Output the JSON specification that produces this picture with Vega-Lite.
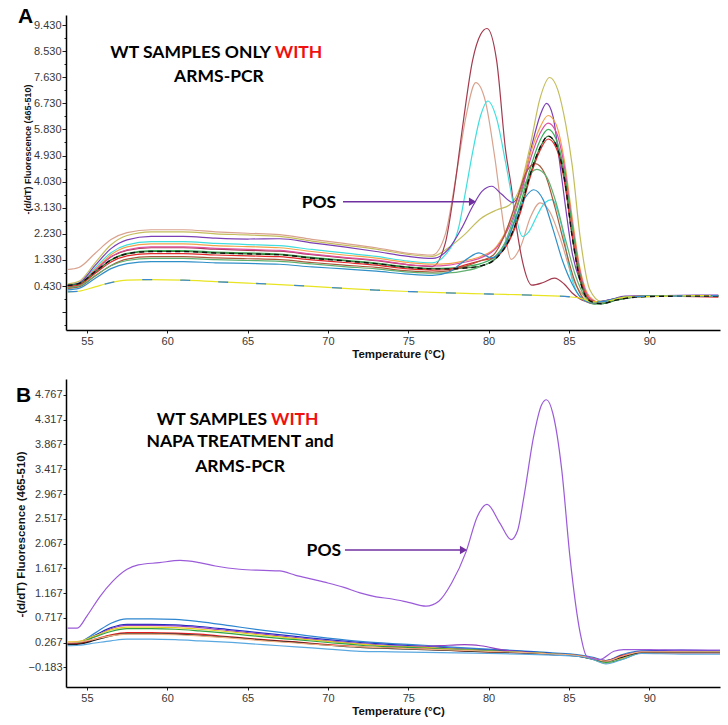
{
"$schema":"https://vega.github.io/schema/vega-lite/v6.json",
"background":"white",
"padding":{"left":15,"top":6,"right":8,"bottom":5},
"config":{"view":{"stroke":null},
 "axis":{"grid":false,"domainColor":"#000","domainWidth":1.5,"tickColor":"#222","tickSize":3,"labelFont":"Liberation Sans Narrow, Liberation Sans","labelFontSize":11,"labelColor":"#383838","titleFont":"Liberation Sans","titleFontWeight":"bold","titleColor":"#111"},
 "text":{"font":"Lato","fontWeight":"bold"}},
"resolve":{"scale":{"color":"independent"}},
"datasets":{
"A":[
{"s":"c01","x":53.8,"y":0.5},{"s":"c01","x":54.5,"y":0.59},{"s":"c01","x":55.5,"y":1.22},{"s":"c01","x":56.5,"y":1.85},{"s":"c01","x":57.5,"y":2.17},{"s":"c01","x":59,"y":2.3},{"s":"c01","x":61,"y":2.3},{"s":"c01","x":63,"y":2.23},{"s":"c01","x":65,"y":2.19},{"s":"c01","x":67,"y":2.14},{"s":"c01","x":69,"y":1.98},{"s":"c01","x":71,"y":1.84},{"s":"c01","x":73,"y":1.7},{"s":"c01","x":75,"y":1.52},{"s":"c01","x":76.5,"y":1.45},{"s":"c01","x":77.5,"y":1.75},{"s":"c01","x":78.5,"y":2.2},{"s":"c01","x":79.5,"y":2.75},{"s":"c01","x":80.5,"y":3.05},{"s":"c01","x":81.3,"y":3.22},{"s":"c01","x":82,"y":3.9},{"s":"c01","x":82.6,"y":5.3},{"s":"c01","x":83.2,"y":6.9},{"s":"c01","x":83.8,"y":7.62},{"s":"c01","x":84.3,"y":7.2},{"s":"c01","x":84.8,"y":6.0},{"s":"c01","x":85.2,"y":4.6},{"s":"c01","x":85.7,"y":2.1},{"s":"c01","x":86.3,"y":0.3},{"s":"c01","x":87,"y":-0.1},{"s":"c01","x":88,"y":0.0},{"s":"c01","x":89.5,"y":0.07},{"s":"c01","x":92,"y":0.09},{"s":"c01","x":94.3,"y":0.1},
{"s":"c02","x":53.8,"y":1.0},{"s":"c02","x":54.5,"y":1.07},{"s":"c02","x":55.5,"y":1.55},{"s":"c02","x":56.5,"y":2.03},{"s":"c02","x":57.5,"y":2.27},{"s":"c02","x":59,"y":2.37},{"s":"c02","x":61,"y":2.37},{"s":"c02","x":63,"y":2.3},{"s":"c02","x":65,"y":2.25},{"s":"c02","x":67,"y":2.2},{"s":"c02","x":69,"y":2.04},{"s":"c02","x":71,"y":1.9},{"s":"c02","x":73,"y":1.75},{"s":"c02","x":75,"y":1.56},{"s":"c02","x":76.5,"y":1.5},{"s":"c02","x":77.3,"y":2.2},{"s":"c02","x":78,"y":4.3},{"s":"c02","x":78.6,"y":6.3},{"s":"c02","x":79.2,"y":7.44},{"s":"c02","x":79.8,"y":6.8},{"s":"c02","x":80.4,"y":4.8},{"s":"c02","x":81.0,"y":2.3},{"s":"c02","x":81.4,"y":1.35},{"s":"c02","x":82.0,"y":1.8},{"s":"c02","x":82.6,"y":2.8},{"s":"c02","x":83.2,"y":3.3},{"s":"c02","x":83.8,"y":3.0},{"s":"c02","x":84.5,"y":2.0},{"s":"c02","x":85.3,"y":0.6},{"s":"c02","x":86.0,"y":0.05},{"s":"c02","x":86.6,"y":-0.12},{"s":"c02","x":87.5,"y":-0.05},{"s":"c02","x":88.5,"y":0.06},{"s":"c02","x":91,"y":0.09},{"s":"c02","x":94.3,"y":0.1},
{"s":"c03","x":53.8,"y":0.45},{"s":"c03","x":54.5,"y":0.52},{"s":"c03","x":55.5,"y":0.97},{"s":"c03","x":56.5,"y":1.43},{"s":"c03","x":57.5,"y":1.66},{"s":"c03","x":59,"y":1.75},{"s":"c03","x":61,"y":1.75},{"s":"c03","x":63,"y":1.7},{"s":"c03","x":65,"y":1.66},{"s":"c03","x":67,"y":1.63},{"s":"c03","x":69,"y":1.51},{"s":"c03","x":71,"y":1.4},{"s":"c03","x":73,"y":1.3},{"s":"c03","x":75,"y":1.16},{"s":"c03","x":76.5,"y":1.1},{"s":"c03","x":77.3,"y":1.9},{"s":"c03","x":77.8,"y":3.5},{"s":"c03","x":78.4,"y":6.0},{"s":"c03","x":79.0,"y":8.2},{"s":"c03","x":79.5,"y":9.1},{"s":"c03","x":79.9,"y":9.31},{"s":"c03","x":80.5,"y":8.2},{"s":"c03","x":81.06,"y":5.1},{"s":"c03","x":81.4,"y":3.9},{"s":"c03","x":81.75,"y":2.4},{"s":"c03","x":82.1,"y":1.3},{"s":"c03","x":82.7,"y":0.46},{"s":"c03","x":83.4,"y":0.55},{"s":"c03","x":84.1,"y":0.7},{"s":"c03","x":84.7,"y":0.5},{"s":"c03","x":85.2,"y":0.19},{"s":"c03","x":85.8,"y":-0.05},{"s":"c03","x":86.5,"y":-0.15},{"s":"c03","x":87.3,"y":-0.08},{"s":"c03","x":88.5,"y":0.05},{"s":"c03","x":91,"y":0.08},{"s":"c03","x":94.3,"y":0.08},
{"s":"c04","x":53.8,"y":0.45},{"s":"c04","x":54.5,"y":0.53},{"s":"c04","x":55.5,"y":1.05},{"s":"c04","x":56.5,"y":1.58},{"s":"c04","x":57.5,"y":1.85},{"s":"c04","x":59,"y":1.96},{"s":"c04","x":61,"y":1.96},{"s":"c04","x":63,"y":1.9},{"s":"c04","x":65,"y":1.86},{"s":"c04","x":67,"y":1.82},{"s":"c04","x":69,"y":1.69},{"s":"c04","x":71,"y":1.57},{"s":"c04","x":73,"y":1.45},{"s":"c04","x":75,"y":1.29},{"s":"c04","x":76.5,"y":1.23},{"s":"c04","x":77.3,"y":1.5},{"s":"c04","x":78.15,"y":2.48},{"s":"c04","x":78.6,"y":3.8},{"s":"c04","x":79.0,"y":5.03},{"s":"c04","x":79.5,"y":6.3},{"s":"c04","x":79.95,"y":6.81},{"s":"c04","x":80.5,"y":6.2},{"s":"c04","x":81.06,"y":4.68},{"s":"c04","x":81.6,"y":3.1},{"s":"c04","x":82.1,"y":2.14},{"s":"c04","x":82.5,"y":2.3},{"s":"c04","x":83.1,"y":2.95},{"s":"c04","x":83.5,"y":3.3},{"s":"c04","x":83.95,"y":3.41},{"s":"c04","x":84.5,"y":2.6},{"s":"c04","x":85.2,"y":0.64},{"s":"c04","x":85.8,"y":0.0},{"s":"c04","x":86.5,"y":-0.16},{"s":"c04","x":87.3,"y":-0.1},{"s":"c04","x":88.5,"y":0.05},{"s":"c04","x":91,"y":0.1},{"s":"c04","x":94.3,"y":0.1},
{"s":"c05","x":53.8,"y":0.45},{"s":"c05","x":54.5,"y":0.53},{"s":"c05","x":55.5,"y":1.13},{"s":"c05","x":56.5,"y":1.72},{"s":"c05","x":57.5,"y":2.02},{"s":"c05","x":59,"y":2.14},{"s":"c05","x":61,"y":2.14},{"s":"c05","x":63,"y":2.08},{"s":"c05","x":65,"y":2.05},{"s":"c05","x":67,"y":2.06},{"s":"c05","x":69,"y":1.92},{"s":"c05","x":71,"y":1.78},{"s":"c05","x":73,"y":1.62},{"s":"c05","x":75,"y":1.45},{"s":"c05","x":76.5,"y":1.38},{"s":"c05","x":77.5,"y":1.7},{"s":"c05","x":78.3,"y":2.4},{"s":"c05","x":79.0,"y":3.17},{"s":"c05","x":79.6,"y":3.7},{"s":"c05","x":80.2,"y":3.87},{"s":"c05","x":80.8,"y":3.6},{"s":"c05","x":81.5,"y":3.31},{"s":"c05","x":82.1,"y":3.9},{"s":"c05","x":82.7,"y":5.3},{"s":"c05","x":83.2,"y":6.3},{"s":"c05","x":83.6,"y":6.73},{"s":"c05","x":84.0,"y":6.3},{"s":"c05","x":84.4,"y":4.79},{"s":"c05","x":84.8,"y":3.1},{"s":"c05","x":85.2,"y":1.57},{"s":"c05","x":85.7,"y":0.6},{"s":"c05","x":86.1,"y":0.19},{"s":"c05","x":86.7,"y":-0.12},{"s":"c05","x":87.5,"y":-0.05},{"s":"c05","x":88.5,"y":0.08},{"s":"c05","x":91,"y":0.1},{"s":"c05","x":94.3,"y":0.12},
{"s":"c06","x":53.8,"y":0.4},{"s":"c06","x":54.5,"y":0.47},{"s":"c06","x":55.5,"y":0.99},{"s":"c06","x":56.5,"y":1.51},{"s":"c06","x":57.5,"y":1.78},{"s":"c06","x":59,"y":1.88},{"s":"c06","x":61,"y":1.88},{"s":"c06","x":63,"y":1.82},{"s":"c06","x":65,"y":1.79},{"s":"c06","x":67,"y":1.75},{"s":"c06","x":69,"y":1.62},{"s":"c06","x":71,"y":1.5},{"s":"c06","x":73,"y":1.39},{"s":"c06","x":75,"y":1.24},{"s":"c06","x":76.5,"y":1.18},{"s":"c06","x":77.5,"y":1.2},{"s":"c06","x":78.5,"y":1.3},{"s":"c06","x":79.5,"y":1.45},{"s":"c06","x":80.5,"y":1.8},{"s":"c06","x":81.3,"y":2.6},{"s":"c06","x":82,"y":3.8},{"s":"c06","x":82.6,"y":5.0},{"s":"c06","x":83.2,"y":5.9},{"s":"c06","x":83.7,"y":6.31},{"s":"c06","x":84.2,"y":6.0},{"s":"c06","x":84.7,"y":4.8},{"s":"c06","x":85.2,"y":2.8},{"s":"c06","x":85.7,"y":1.0},{"s":"c06","x":86.3,"y":0.05},{"s":"c06","x":87,"y":-0.15},{"s":"c06","x":88,"y":-0.02},{"s":"c06","x":89.5,"y":0.08},{"s":"c06","x":92,"y":0.1},{"s":"c06","x":94.3,"y":0.1},
{"s":"c07","x":53.8,"y":0.42},{"s":"c07","x":54.5,"y":0.49},{"s":"c07","x":55.5,"y":0.96},{"s":"c07","x":56.5,"y":1.44},{"s":"c07","x":57.5,"y":1.68},{"s":"c07","x":59,"y":1.78},{"s":"c07","x":61,"y":1.78},{"s":"c07","x":63,"y":1.73},{"s":"c07","x":65,"y":1.69},{"s":"c07","x":67,"y":1.66},{"s":"c07","x":69,"y":1.53},{"s":"c07","x":71,"y":1.42},{"s":"c07","x":73,"y":1.32},{"s":"c07","x":75,"y":1.17},{"s":"c07","x":76.5,"y":1.12},{"s":"c07","x":77.5,"y":1.15},{"s":"c07","x":78.5,"y":1.25},{"s":"c07","x":79.5,"y":1.4},{"s":"c07","x":80.5,"y":1.75},{"s":"c07","x":81.3,"y":2.5},{"s":"c07","x":82,"y":3.6},{"s":"c07","x":82.6,"y":4.8},{"s":"c07","x":83.2,"y":5.7},{"s":"c07","x":83.7,"y":6.05},{"s":"c07","x":84.2,"y":5.75},{"s":"c07","x":84.7,"y":4.6},{"s":"c07","x":85.2,"y":2.6},{"s":"c07","x":85.7,"y":0.9},{"s":"c07","x":86.3,"y":0.0},{"s":"c07","x":87,"y":-0.15},{"s":"c07","x":88,"y":-0.02},{"s":"c07","x":89.5,"y":0.08},{"s":"c07","x":92,"y":0.1},{"s":"c07","x":94.3,"y":0.1},
{"s":"c08","x":53.8,"y":0.38},{"s":"c08","x":54.5,"y":0.44},{"s":"c08","x":55.5,"y":0.89},{"s":"c08","x":56.5,"y":1.33},{"s":"c08","x":57.5,"y":1.56},{"s":"c08","x":59,"y":1.65},{"s":"c08","x":61,"y":1.65},{"s":"c08","x":63,"y":1.6},{"s":"c08","x":65,"y":1.57},{"s":"c08","x":67,"y":1.53},{"s":"c08","x":69,"y":1.42},{"s":"c08","x":71,"y":1.32},{"s":"c08","x":73,"y":1.22},{"s":"c08","x":75,"y":1.09},{"s":"c08","x":76.5,"y":1.04},{"s":"c08","x":77.5,"y":1.05},{"s":"c08","x":78.5,"y":1.1},{"s":"c08","x":79.5,"y":1.2},{"s":"c08","x":80.5,"y":1.5},{"s":"c08","x":81.3,"y":2.2},{"s":"c08","x":82,"y":3.3},{"s":"c08","x":82.6,"y":4.5},{"s":"c08","x":83.2,"y":5.45},{"s":"c08","x":83.7,"y":5.83},{"s":"c08","x":84.2,"y":5.5},{"s":"c08","x":84.7,"y":4.4},{"s":"c08","x":85.2,"y":2.5},{"s":"c08","x":85.7,"y":0.8},{"s":"c08","x":86.3,"y":-0.05},{"s":"c08","x":87,"y":-0.18},{"s":"c08","x":88,"y":-0.05},{"s":"c08","x":89.5,"y":0.07},{"s":"c08","x":92,"y":0.1},{"s":"c08","x":94.3,"y":0.1},
{"s":"c09","x":53.8,"y":0.45},{"s":"c09","x":54.5,"y":0.51},{"s":"c09","x":55.5,"y":0.92},{"s":"c09","x":56.5,"y":1.33},{"s":"c09","x":57.5,"y":1.54},{"s":"c09","x":59,"y":1.62},{"s":"c09","x":61,"y":1.62},{"s":"c09","x":63,"y":1.57},{"s":"c09","x":65,"y":1.54},{"s":"c09","x":67,"y":1.51},{"s":"c09","x":69,"y":1.39},{"s":"c09","x":71,"y":1.3},{"s":"c09","x":73,"y":1.2},{"s":"c09","x":75,"y":1.07},{"s":"c09","x":76.5,"y":1.02},{"s":"c09","x":77.5,"y":1.02},{"s":"c09","x":78.5,"y":1.05},{"s":"c09","x":79.5,"y":1.12},{"s":"c09","x":80.5,"y":1.4},{"s":"c09","x":81.3,"y":2.05},{"s":"c09","x":82,"y":3.1},{"s":"c09","x":82.6,"y":4.3},{"s":"c09","x":83.2,"y":5.2},{"s":"c09","x":83.7,"y":5.6},{"s":"c09","x":84.2,"y":5.3},{"s":"c09","x":84.7,"y":4.2},{"s":"c09","x":85.2,"y":2.14},{"s":"c09","x":85.7,"y":0.6},{"s":"c09","x":86.3,"y":-0.08},{"s":"c09","x":87,"y":-0.18},{"s":"c09","x":88,"y":-0.05},{"s":"c09","x":89.5,"y":0.06},{"s":"c09","x":92,"y":0.08},{"s":"c09","x":94.3,"y":0.08},
{"s":"c10","x":53.8,"y":0.4},{"s":"c10","x":54.5,"y":0.46},{"s":"c10","x":55.5,"y":0.86},{"s":"c10","x":56.5,"y":1.26},{"s":"c10","x":57.5,"y":1.47},{"s":"c10","x":59,"y":1.55},{"s":"c10","x":61,"y":1.55},{"s":"c10","x":63,"y":1.5},{"s":"c10","x":65,"y":1.47},{"s":"c10","x":67,"y":1.44},{"s":"c10","x":69,"y":1.33},{"s":"c10","x":71,"y":1.24},{"s":"c10","x":73,"y":1.15},{"s":"c10","x":75,"y":1.02},{"s":"c10","x":76.5,"y":0.98},{"s":"c10","x":77.5,"y":1.0},{"s":"c10","x":78.5,"y":1.15},{"s":"c10","x":79.5,"y":1.3},{"s":"c10","x":80.5,"y":1.45},{"s":"c10","x":81.3,"y":2.0},{"s":"c10","x":82,"y":3.0},{"s":"c10","x":82.6,"y":4.2},{"s":"c10","x":83.2,"y":5.1},{"s":"c10","x":83.7,"y":5.5},{"s":"c10","x":84.2,"y":5.2},{"s":"c10","x":84.7,"y":4.1},{"s":"c10","x":85.2,"y":2.2},{"s":"c10","x":85.7,"y":0.7},{"s":"c10","x":86.3,"y":-0.05},{"s":"c10","x":87,"y":-0.15},{"s":"c10","x":88,"y":0.0},{"s":"c10","x":89.5,"y":0.07},{"s":"c10","x":92,"y":0.07},{"s":"c10","x":94.3,"y":0.05},
{"s":"c11","x":53.8,"y":0.35},{"s":"c11","x":54.5,"y":0.4},{"s":"c11","x":55.5,"y":0.77},{"s":"c11","x":56.5,"y":1.14},{"s":"c11","x":57.5,"y":1.36},{"s":"c11","x":59,"y":1.44},{"s":"c11","x":61,"y":1.44},{"s":"c11","x":63,"y":1.4},{"s":"c11","x":65,"y":1.37},{"s":"c11","x":67,"y":1.34},{"s":"c11","x":69,"y":1.24},{"s":"c11","x":71,"y":1.15},{"s":"c11","x":73,"y":1.07},{"s":"c11","x":75,"y":0.95},{"s":"c11","x":76.5,"y":0.91},{"s":"c11","x":77.5,"y":0.95},{"s":"c11","x":78.5,"y":1.1},{"s":"c11","x":79.5,"y":1.3},{"s":"c11","x":80.3,"y":1.5},{"s":"c11","x":81,"y":2.2},{"s":"c11","x":81.7,"y":3.3},{"s":"c11","x":82.3,"y":4.3},{"s":"c11","x":82.9,"y":4.65},{"s":"c11","x":83.5,"y":4.3},{"s":"c11","x":84.1,"y":3.2},{"s":"c11","x":84.7,"y":1.9},{"s":"c11","x":85.3,"y":0.7},{"s":"c11","x":85.9,"y":0.0},{"s":"c11","x":86.5,"y":-0.18},{"s":"c11","x":87.3,"y":-0.1},{"s":"c11","x":88.5,"y":0.05},{"s":"c11","x":91,"y":0.08},{"s":"c11","x":94.3,"y":0.08},
{"s":"c12","x":53.8,"y":0.38},{"s":"c12","x":54.5,"y":0.43},{"s":"c12","x":55.5,"y":0.78},{"s":"c12","x":56.5,"y":1.13},{"s":"c12","x":57.5,"y":1.31},{"s":"c12","x":59,"y":1.38},{"s":"c12","x":61,"y":1.38},{"s":"c12","x":63,"y":1.34},{"s":"c12","x":65,"y":1.31},{"s":"c12","x":67,"y":1.28},{"s":"c12","x":69,"y":1.19},{"s":"c12","x":71,"y":1.1},{"s":"c12","x":73,"y":1.02},{"s":"c12","x":75,"y":0.91},{"s":"c12","x":76.5,"y":0.87},{"s":"c12","x":77.5,"y":0.88},{"s":"c12","x":78.5,"y":0.95},{"s":"c12","x":79.5,"y":1.1},{"s":"c12","x":80.3,"y":1.35},{"s":"c12","x":81,"y":1.9},{"s":"c12","x":81.7,"y":3.0},{"s":"c12","x":82.3,"y":4.0},{"s":"c12","x":83.0,"y":4.45},{"s":"c12","x":83.6,"y":4.2},{"s":"c12","x":84.2,"y":3.3},{"s":"c12","x":84.8,"y":2.0},{"s":"c12","x":85.4,"y":0.8},{"s":"c12","x":86.0,"y":0.05},{"s":"c12","x":86.6,"y":-0.2},{"s":"c12","x":87.4,"y":-0.12},{"s":"c12","x":88.5,"y":0.05},{"s":"c12","x":91,"y":0.1},{"s":"c12","x":94.3,"y":0.1},
{"s":"c13","x":53.8,"y":0.3},{"s":"c13","x":54.5,"y":0.35},{"s":"c13","x":55.5,"y":0.69},{"s":"c13","x":56.5,"y":1.03},{"s":"c13","x":57.5,"y":1.2},{"s":"c13","x":59,"y":1.27},{"s":"c13","x":61,"y":1.27},{"s":"c13","x":63,"y":1.23},{"s":"c13","x":65,"y":1.21},{"s":"c13","x":67,"y":1.18},{"s":"c13","x":69,"y":1.09},{"s":"c13","x":71,"y":1.02},{"s":"c13","x":73,"y":0.94},{"s":"c13","x":75,"y":0.84},{"s":"c13","x":76.5,"y":0.8},{"s":"c13","x":77.5,"y":0.9},{"s":"c13","x":78.5,"y":1.3},{"s":"c13","x":79.4,"y":1.57},{"s":"c13","x":80.2,"y":1.4},{"s":"c13","x":81,"y":1.8},{"s":"c13","x":81.7,"y":2.8},{"s":"c13","x":82.3,"y":3.5},{"s":"c13","x":82.8,"y":3.75},{"s":"c13","x":83.4,"y":3.4},{"s":"c13","x":84.0,"y":2.4},{"s":"c13","x":84.6,"y":1.3},{"s":"c13","x":85.2,"y":0.5},{"s":"c13","x":85.8,"y":0.0},{"s":"c13","x":86.5,"y":-0.15},{"s":"c13","x":87.3,"y":-0.08},{"s":"c13","x":88.5,"y":0.05},{"s":"c13","x":91,"y":0.08},{"s":"c13","x":94.3,"y":0.08},
{"s":"c14","x":53.8,"y":0.23},{"s":"c14","x":54.5,"y":0.25},{"s":"c14","x":55.5,"y":0.4},{"s":"c14","x":56.5,"y":0.55},{"s":"c14","x":57.5,"y":0.63},{"s":"c14","x":59,"y":0.65},{"s":"c14","x":61,"y":0.63},{"s":"c14","x":63,"y":0.58},{"s":"c14","x":65,"y":0.53},{"s":"c14","x":67,"y":0.48},{"s":"c14","x":69,"y":0.42},{"s":"c14","x":71,"y":0.35},{"s":"c14","x":73,"y":0.29},{"s":"c14","x":75,"y":0.24},{"s":"c14","x":77,"y":0.2},{"s":"c14","x":79,"y":0.17},{"s":"c14","x":81,"y":0.14},{"s":"c14","x":83,"y":0.11},{"s":"c14","x":85,"y":0.06},{"s":"c14","x":85.8,"y":0.0},{"s":"c14","x":86.5,"y":-0.12},{"s":"c14","x":87.3,"y":-0.1},{"s":"c14","x":88.5,"y":0.05},{"s":"c14","x":91,"y":0.08},{"s":"c14","x":94.3,"y":0.1}
],
"B":[
{"s":"b1","x":53.8,"y":0.26},{"s":"b1","x":54.5,"y":0.28},{"s":"b1","x":55.5,"y":0.44},{"s":"b1","x":56.5,"y":0.62},{"s":"b1","x":57.5,"y":0.7},{"s":"b1","x":59,"y":0.7},{"s":"b1","x":60.5,"y":0.69},{"s":"b1","x":62,"y":0.65},{"s":"b1","x":64,"y":0.57},{"s":"b1","x":66,"y":0.49},{"s":"b1","x":68,"y":0.42},{"s":"b1","x":70,"y":0.35},{"s":"b1","x":72,"y":0.29},{"s":"b1","x":74,"y":0.25},{"s":"b1","x":76,"y":0.22},{"s":"b1","x":78,"y":0.18},{"s":"b1","x":80,"y":0.15},{"s":"b1","x":82,"y":0.12},{"s":"b1","x":84,"y":0.08},{"s":"b1","x":85.5,"y":0.05},{"s":"b1","x":86.5,"y":0.0},{"s":"b1","x":87.3,"y":-0.06},{"s":"b1","x":88.3,"y":0.05},{"s":"b1","x":89.5,"y":0.12},{"s":"b1","x":92,"y":0.12},{"s":"b1","x":94.4,"y":0.12},
{"s":"b2","x":53.8,"y":0.25},{"s":"b2","x":54.5,"y":0.27},{"s":"b2","x":55.5,"y":0.4},{"s":"b2","x":56.5,"y":0.54},{"s":"b2","x":57.5,"y":0.6},{"s":"b2","x":59,"y":0.6},{"s":"b2","x":60.5,"y":0.59},{"s":"b2","x":62,"y":0.56},{"s":"b2","x":64,"y":0.5},{"s":"b2","x":66,"y":0.44},{"s":"b2","x":68,"y":0.38},{"s":"b2","x":70,"y":0.32},{"s":"b2","x":72,"y":0.27},{"s":"b2","x":74,"y":0.23},{"s":"b2","x":76,"y":0.2},{"s":"b2","x":78,"y":0.16},{"s":"b2","x":80,"y":0.13},{"s":"b2","x":82,"y":0.11},{"s":"b2","x":84,"y":0.07},{"s":"b2","x":85.5,"y":0.03},{"s":"b2","x":86.5,"y":-0.02},{"s":"b2","x":87.3,"y":-0.06},{"s":"b2","x":88.3,"y":0.03},{"s":"b2","x":89.5,"y":0.11},{"s":"b2","x":92,"y":0.13},{"s":"b2","x":94.4,"y":0.12},
{"s":"b3","x":53.8,"y":0.24},{"s":"b3","x":54.5,"y":0.26},{"s":"b3","x":55.5,"y":0.38},{"s":"b3","x":56.5,"y":0.52},{"s":"b3","x":57.5,"y":0.58},{"s":"b3","x":59,"y":0.58},{"s":"b3","x":60.5,"y":0.57},{"s":"b3","x":62,"y":0.54},{"s":"b3","x":64,"y":0.48},{"s":"b3","x":66,"y":0.42},{"s":"b3","x":68,"y":0.36},{"s":"b3","x":70,"y":0.3},{"s":"b3","x":72,"y":0.25},{"s":"b3","x":74,"y":0.21},{"s":"b3","x":76,"y":0.2},{"s":"b3","x":77.5,"y":0.22},{"s":"b3","x":78.5,"y":0.23},{"s":"b3","x":79.5,"y":0.21},{"s":"b3","x":81,"y":0.13},{"s":"b3","x":82,"y":0.1},{"s":"b3","x":84,"y":0.06},{"s":"b3","x":85.5,"y":0.03},{"s":"b3","x":86.5,"y":-0.03},{"s":"b3","x":87.3,"y":-0.08},{"s":"b3","x":88.3,"y":0.02},{"s":"b3","x":89.5,"y":0.1},{"s":"b3","x":92,"y":0.11},{"s":"b3","x":94.4,"y":0.1},
{"s":"b4","x":53.8,"y":0.28},{"s":"b4","x":54.5,"y":0.29},{"s":"b4","x":55.5,"y":0.39},{"s":"b4","x":56.5,"y":0.5},{"s":"b4","x":57.5,"y":0.55},{"s":"b4","x":59,"y":0.55},{"s":"b4","x":60.5,"y":0.54},{"s":"b4","x":62,"y":0.51},{"s":"b4","x":64,"y":0.46},{"s":"b4","x":66,"y":0.4},{"s":"b4","x":68,"y":0.34},{"s":"b4","x":70,"y":0.29},{"s":"b4","x":72,"y":0.24},{"s":"b4","x":74,"y":0.2},{"s":"b4","x":76,"y":0.18},{"s":"b4","x":78,"y":0.15},{"s":"b4","x":80,"y":0.12},{"s":"b4","x":82,"y":0.09},{"s":"b4","x":84,"y":0.06},{"s":"b4","x":85.5,"y":0.03},{"s":"b4","x":86.5,"y":-0.04},{"s":"b4","x":87.3,"y":-0.11},{"s":"b4","x":88.3,"y":-0.02},{"s":"b4","x":89.5,"y":0.09},{"s":"b4","x":92,"y":0.1},{"s":"b4","x":94.4,"y":0.1},
{"s":"b5","x":53.8,"y":0.26},{"s":"b5","x":54.5,"y":0.27},{"s":"b5","x":55.5,"y":0.37},{"s":"b5","x":56.5,"y":0.47},{"s":"b5","x":57.5,"y":0.52},{"s":"b5","x":59,"y":0.52},{"s":"b5","x":60.5,"y":0.51},{"s":"b5","x":62,"y":0.48},{"s":"b5","x":64,"y":0.43},{"s":"b5","x":66,"y":0.37},{"s":"b5","x":68,"y":0.32},{"s":"b5","x":70,"y":0.27},{"s":"b5","x":72,"y":0.22},{"s":"b5","x":74,"y":0.19},{"s":"b5","x":76,"y":0.17},{"s":"b5","x":78,"y":0.14},{"s":"b5","x":80,"y":0.12},{"s":"b5","x":82,"y":0.09},{"s":"b5","x":84,"y":0.06},{"s":"b5","x":85.5,"y":0.03},{"s":"b5","x":86.5,"y":-0.04},{"s":"b5","x":87.3,"y":-0.09},{"s":"b5","x":88.3,"y":-0.04},{"s":"b5","x":89.5,"y":0.08},{"s":"b5","x":92,"y":0.09},{"s":"b5","x":94.4,"y":0.1},
{"s":"b6","x":53.8,"y":0.24},{"s":"b6","x":54.5,"y":0.25},{"s":"b6","x":55.5,"y":0.33},{"s":"b6","x":56.5,"y":0.41},{"s":"b6","x":57.5,"y":0.45},{"s":"b6","x":59,"y":0.45},{"s":"b6","x":60.5,"y":0.44},{"s":"b6","x":62,"y":0.42},{"s":"b6","x":64,"y":0.37},{"s":"b6","x":66,"y":0.32},{"s":"b6","x":68,"y":0.28},{"s":"b6","x":70,"y":0.23},{"s":"b6","x":72,"y":0.19},{"s":"b6","x":74,"y":0.17},{"s":"b6","x":76,"y":0.15},{"s":"b6","x":78,"y":0.12},{"s":"b6","x":80,"y":0.1},{"s":"b6","x":82,"y":0.08},{"s":"b6","x":84,"y":0.05},{"s":"b6","x":85.5,"y":0.03},{"s":"b6","x":86.5,"y":-0.02},{"s":"b6","x":87.3,"y":-0.06},{"s":"b6","x":88.3,"y":0.03},{"s":"b6","x":89.5,"y":0.08},{"s":"b6","x":92,"y":0.08},{"s":"b6","x":94.4,"y":0.08},
{"s":"b7","x":53.8,"y":0.23},{"s":"b7","x":54.5,"y":0.24},{"s":"b7","x":55.5,"y":0.31},{"s":"b7","x":56.5,"y":0.39},{"s":"b7","x":57.5,"y":0.43},{"s":"b7","x":59,"y":0.43},{"s":"b7","x":60.5,"y":0.42},{"s":"b7","x":62,"y":0.4},{"s":"b7","x":64,"y":0.36},{"s":"b7","x":66,"y":0.31},{"s":"b7","x":68,"y":0.27},{"s":"b7","x":70,"y":0.22},{"s":"b7","x":72,"y":0.18},{"s":"b7","x":74,"y":0.16},{"s":"b7","x":76,"y":0.14},{"s":"b7","x":78,"y":0.12},{"s":"b7","x":80,"y":0.1},{"s":"b7","x":82,"y":0.08},{"s":"b7","x":84,"y":0.05},{"s":"b7","x":85.5,"y":0.02},{"s":"b7","x":86.5,"y":-0.03},{"s":"b7","x":87.3,"y":-0.07},{"s":"b7","x":88.3,"y":0.0},{"s":"b7","x":89.5,"y":0.09},{"s":"b7","x":92,"y":0.09},{"s":"b7","x":94.4,"y":0.09},
{"s":"b8","x":53.8,"y":0.27},{"s":"b8","x":54.5,"y":0.28},{"s":"b8","x":55.5,"y":0.33},{"s":"b8","x":56.5,"y":0.39},{"s":"b8","x":57.5,"y":0.42},{"s":"b8","x":59,"y":0.42},{"s":"b8","x":60.5,"y":0.41},{"s":"b8","x":62,"y":0.39},{"s":"b8","x":64,"y":0.35},{"s":"b8","x":66,"y":0.3},{"s":"b8","x":68,"y":0.26},{"s":"b8","x":70,"y":0.22},{"s":"b8","x":72,"y":0.19},{"s":"b8","x":74,"y":0.17},{"s":"b8","x":76,"y":0.15},{"s":"b8","x":78,"y":0.13},{"s":"b8","x":80,"y":0.11},{"s":"b8","x":82,"y":0.09},{"s":"b8","x":84,"y":0.06},{"s":"b8","x":85.5,"y":0.03},{"s":"b8","x":86.5,"y":-0.02},{"s":"b8","x":87.3,"y":-0.07},{"s":"b8","x":88.3,"y":0.02},{"s":"b8","x":89.5,"y":0.1},{"s":"b8","x":92,"y":0.1},{"s":"b8","x":94.4,"y":0.1},
{"s":"b9","x":53.8,"y":0.21},{"s":"b9","x":54.5,"y":0.22},{"s":"b9","x":55.5,"y":0.26},{"s":"b9","x":56.5,"y":0.3},{"s":"b9","x":57.5,"y":0.33},{"s":"b9","x":59,"y":0.33},{"s":"b9","x":60.5,"y":0.32},{"s":"b9","x":62,"y":0.3},{"s":"b9","x":64,"y":0.27},{"s":"b9","x":66,"y":0.23},{"s":"b9","x":68,"y":0.19},{"s":"b9","x":70,"y":0.15},{"s":"b9","x":72,"y":0.11},{"s":"b9","x":74,"y":0.1},{"s":"b9","x":76,"y":0.09},{"s":"b9","x":78,"y":0.08},{"s":"b9","x":80,"y":0.07},{"s":"b9","x":82,"y":0.06},{"s":"b9","x":84,"y":0.04},{"s":"b9","x":85.5,"y":0.02},{"s":"b9","x":86.5,"y":-0.04},{"s":"b9","x":87.3,"y":-0.12},{"s":"b9","x":88.3,"y":-0.04},{"s":"b9","x":89.5,"y":0.07},{"s":"b9","x":92,"y":0.06},{"s":"b9","x":94.4,"y":0.06},
{"s":"p","x":53.8,"y":0.53},{"s":"p","x":54.4,"y":0.53},{"s":"p","x":55,"y":0.75},{"s":"p","x":55.8,"y":1.1},{"s":"p","x":56.6,"y":1.38},{"s":"p","x":57.5,"y":1.6},{"s":"p","x":58.2,"y":1.68},{"s":"p","x":59.5,"y":1.72},{"s":"p","x":60.8,"y":1.76},{"s":"p","x":62,"y":1.72},{"s":"p","x":63,"y":1.66},{"s":"p","x":64.5,"y":1.6},{"s":"p","x":66,"y":1.58},{"s":"p","x":67,"y":1.57},{"s":"p","x":68,"y":1.49},{"s":"p","x":69,"y":1.42},{"s":"p","x":70,"y":1.35},{"s":"p","x":71,"y":1.27},{"s":"p","x":72,"y":1.17},{"s":"p","x":73,"y":1.1},{"s":"p","x":74,"y":1.06},{"s":"p","x":75,"y":1.0},{"s":"p","x":76.1,"y":0.93},{"s":"p","x":76.9,"y":1.02},{"s":"p","x":77.7,"y":1.35},{"s":"p","x":78.6,"y":1.92},{"s":"p","x":79.3,"y":2.56},{"s":"p","x":79.9,"y":2.78},{"s":"p","x":80.7,"y":2.44},{"s":"p","x":81.4,"y":2.14},{"s":"p","x":81.8,"y":2.3},{"s":"p","x":82.2,"y":2.92},{"s":"p","x":82.8,"y":4.01},{"s":"p","x":83.3,"y":4.59},{"s":"p","x":83.6,"y":4.68},{"s":"p","x":84.0,"y":4.43},{"s":"p","x":84.55,"y":3.41},{"s":"p","x":85.06,"y":1.83},{"s":"p","x":85.7,"y":0.44},{"s":"p","x":86.1,"y":0.02},{"s":"p","x":86.9,"y":-0.04},{"s":"p","x":87.8,"y":0.11},{"s":"p","x":88.4,"y":0.14},{"s":"p","x":90,"y":0.14},{"s":"p","x":92,"y":0.13},{"s":"p","x":94.4,"y":0.13}
]},
"vconcat":[
{"width":654,"height":315,
 "encoding":{
  "x":{"field":"x","type":"quantitative","scale":{"domain":[53.7,94.4],"nice":false,"zero":false},
    "axis":{"values":[55,60,65,70,75,80,85,90],"title":"Temperature (°C)","titleX":332,"titleY":24,"titleBaseline":"middle","titleFontSize":11.5,"labelPadding":2,"labelFlush":false}},
  "y":{"field":"y","type":"quantitative","scale":{"domain":[-1.087,9.775],"nice":false,"zero":false},
    "axis":{"values":[-0.92,-0.47,-0.02,0.43,0.88,1.33,1.78,2.23,2.68,3.13,3.58,4.03,4.48,4.93,5.38,5.83,6.28,6.73,7.18,7.63,8.08,8.53,8.98,9.43],
      "labelExpr":"(datum.value > 0.3 && abs((datum.value - 0.43)/0.9 - round((datum.value - 0.43)/0.9)) < 0.02) ? format(datum.value, '.3f') : ''",
      "tickSize":{"condition":{"test":"abs((datum.value - 0.43)/0.9 - round((datum.value - 0.43)/0.9)) < 0.02","value":4},"value":2},
      "title":"-(d/dT) Fluorescence (465-510)","titleFontSize":9,"titleX":-39,"titleY":134,"titleBaseline":"middle","labelPadding":1}}},
 "layer":[
  {"data":{"name":"A"},"mark":{"type":"line","strokeWidth":1.2,"interpolate":"monotone"},
   "encoding":{
    "color":{"field":"s","type":"nominal","legend":null,"scale":{"domain":["c01","c02","c03","c04","c05","c06","c07","c08","c09","c10","c11","c12","c13","c14"],"range":["#c4bd5c","#d9a28e","#a33a4e","#40dede","#7b3fb5","#f2a24a","#dd4fa0","#3cae5c","#2f7a34","#e0282a","#a65a3c","#62b070","#2f8fc8","#e8e422"]}}}},
  {"data":{"name":"A"},"transform":[{"filter":"datum.s==='c09'"}],"mark":{"type":"line","strokeWidth":1.4,"interpolate":"monotone","color":"#111","strokeDash":[5,4]},"encoding":{}},
  {"data":{"name":"A"},"transform":[{"filter":"datum.s==='c14'"}],"mark":{"type":"line","strokeWidth":1.3,"interpolate":"monotone","color":"#3b8ad0","strokeDash":[10,28]},"encoding":{}},
  {"data":{"values":[{"x":70.94,"x2":79.0,"y":3.335}]},"mark":{"type":"rule","color":"#7030a0","strokeWidth":1.6},
   "encoding":{"x2":{"field":"x2"}}},
  {"data":{"values":[{"x":79.0,"y":3.335}]},"mark":{"type":"point","shape":"triangle-right","filled":true,"size":70,"color":"#7030a0","opacity":1},"encoding":{}},
  {"data":{"values":[{"x":63.22,"y":7.636,"t":"ARMS-PCR"},{"x":69.44,"y":3.29,"t":"POS"}]},"mark":{"type":"text","fontSize":17.5,"baseline":"middle","align":"center","color":"#000"},
   "encoding":{"text":{"field":"t"}}},
  {"data":{"values":[{"x":66.47,"y":8.464,"t":"WT SAMPLES ONLY"}]},"mark":{"type":"text","fontSize":17.5,"baseline":"middle","align":"right","color":"#000"},
   "encoding":{"text":{"field":"t"}}},
  {"data":{"values":[{"x":66.69,"y":8.464,"t":"WITH"}]},"mark":{"type":"text","fontSize":17.5,"baseline":"middle","align":"left","color":"#f01010"},
   "encoding":{"text":{"field":"t"}}},
  {"data":{"values":[{"x":51.18,"y":9.706,"t":"A"}]},"mark":{"type":"text","fontSize":21,"baseline":"middle","align":"center","color":"#000","font":"Liberation Sans"},
   "encoding":{"text":{"field":"t"}}}
 ]},
{"width":654,"height":308,
 "encoding":{
  "x":{"field":"x","type":"quantitative","scale":{"domain":[53.7,94.4],"nice":false,"zero":false},
    "axis":{"values":[55,60,65,70,75,80,85,90],"title":"Temperature (°C)","titleX":332,"titleY":24,"titleBaseline":"middle","titleFontSize":11.5,"labelPadding":2,"labelFlush":false}},
  "y":{"field":"y","type":"quantitative","scale":{"domain":[-0.539,5.057],"nice":false,"zero":false},
    "axis":{"values":[-0.183,0.267,0.717,1.167,1.617,2.067,2.517,2.967,3.417,3.867,4.317,4.767],"format":".3f","title":"-(d/dT) Fluorescence (465-510)","titleFontSize":11.5,"titleX":-45,"titleY":155,"titleBaseline":"middle","labelPadding":1}}},
 "layer":[
  {"data":{"name":"B"},"mark":{"type":"line","strokeWidth":1.2,"interpolate":"monotone"},
   "encoding":{
    "color":{"field":"s","type":"nominal","legend":null,"scale":{"domain":["b1","b2","b3","b4","b5","b6","b7","b8","b9","p"],"range":["#2e86d0","#2030c0","#9040c0","#e8d020","#30a040","#e02020","#202020","#f0b080","#5aa8e0","#9b5bd9"]}}}},
  {"data":{"values":[{"x":71.06,"x2":78.44,"y":1.95}]},"mark":{"type":"rule","color":"#7030a0","strokeWidth":1.6},
   "encoding":{"x2":{"field":"x2"}}},
  {"data":{"values":[{"x":78.44,"y":1.95}]},"mark":{"type":"point","shape":"triangle-right","filled":true,"size":70,"color":"#7030a0","opacity":1},"encoding":{}},
  {"data":{"values":[{"x":64.53,"y":3.919,"t":"NAPA TREATMENT and"},{"x":64.53,"y":3.465,"t":"ARMS-PCR"},{"x":69.75,"y":1.93,"t":"POS"}]},"mark":{"type":"text","fontSize":17.5,"baseline":"middle","align":"center","color":"#000"},
   "encoding":{"text":{"field":"t"}}},
  {"data":{"values":[{"x":66.21,"y":4.313,"t":"WT SAMPLES"}]},"mark":{"type":"text","fontSize":17.5,"baseline":"middle","align":"right","color":"#000"},
   "encoding":{"text":{"field":"t"}}},
  {"data":{"values":[{"x":66.46,"y":4.313,"t":"WITH"}]},"mark":{"type":"text","fontSize":17.5,"baseline":"middle","align":"left","color":"#f01010"},
   "encoding":{"text":{"field":"t"}}},
  {"data":{"values":[{"x":51.06,"y":4.748,"t":"B"}]},"mark":{"type":"text","fontSize":21,"baseline":"middle","align":"center","color":"#000","font":"Liberation Sans"},
   "encoding":{"text":{"field":"t"}}}
 ]}
],
"spacing":49,
"bounds":"flush"
}
